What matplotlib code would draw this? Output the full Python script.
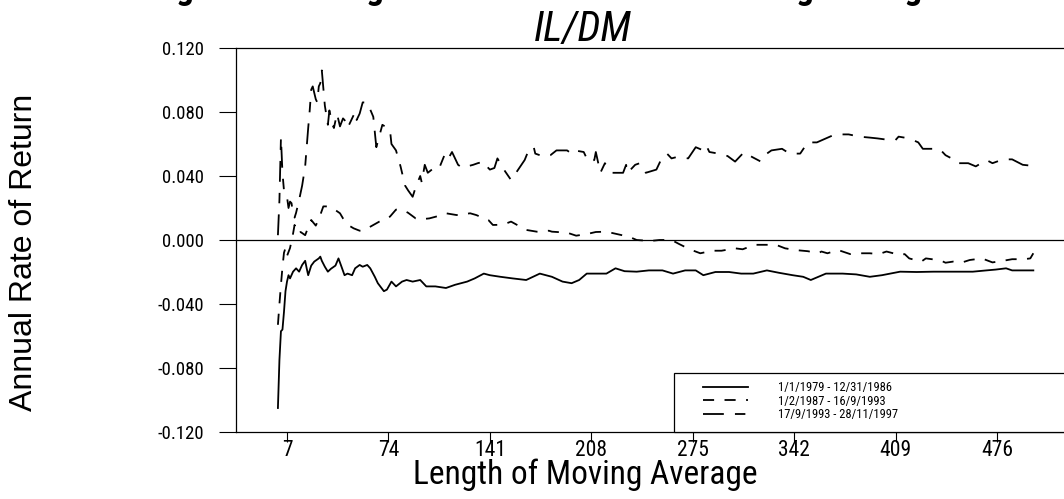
import matplotlib
matplotlib.use("Agg")
import matplotlib.pyplot as plt
from matplotlib import font_manager
from matplotlib.lines import Line2D
from matplotlib.patches import Rectangle

# ---------------- data ----------------
title_text = "Figure 2: Average Annual Returns from Moving Average Rules"
subtitle_text = "IL/DM"
ylabel_text = "Annual Rate of Return"
xlabel_text = "Length of Moving Average"
series_labels = ["1/1/1979 - 12/31/1986", "1/2/1987 - 16/9/1993", "17/9/1993 - 28/11/1997"]
x_ticks = [7, 74, 141, 208, 275, 342, 409, 476]
y_ticks = [-0.120, -0.080, -0.040, 0.000, 0.040, 0.080, 0.120]

p1_x = [1, 2, 3, 4, 5, 6, 7, 8, 9, 11, 13, 15, 17, 19, 20, 21, 23, 25, 28, 29, 30, 32, 34, 36,
        39, 41, 43, 45, 47, 50, 52, 55, 57, 60, 62, 65, 67, 71, 73, 76, 79, 83, 86, 90, 95, 99,
        105, 112, 118, 126, 131, 137, 141, 148, 156, 165, 174, 182, 189, 195, 200, 205, 218, 224,
        230, 238, 246, 255, 262, 270, 277, 282, 290, 299, 307, 315, 324, 332, 341, 348, 353, 358,
        363, 374, 383, 392, 400, 412, 423, 434, 447, 460, 469, 475, 482, 486, 493, 500]
p1_y = [-0.105, -0.075, -0.057, -0.056, -0.045, -0.032, -0.026, -0.022, -0.024, -0.0198, -0.0177,
        -0.0198, -0.0156, -0.013, -0.0177, -0.022, -0.016, -0.0135, -0.0115, -0.0104, -0.013,
        -0.0167, -0.0198, -0.018, -0.016, -0.0115, -0.0167, -0.022, -0.021, -0.022, -0.0177,
        -0.0156, -0.0167, -0.0156, -0.0177, -0.023, -0.027, -0.032, -0.031, -0.026, -0.029,
        -0.026, -0.025, -0.026, -0.025, -0.029, -0.029, -0.030, -0.028, -0.026, -0.024, -0.021,
        -0.022, -0.023, -0.024, -0.025, -0.021, -0.023, -0.026, -0.027, -0.025, -0.021, -0.021,
        -0.0177, -0.0195, -0.0198, -0.019, -0.019, -0.021, -0.019, -0.019, -0.022, -0.020,
        -0.020, -0.021, -0.021, -0.019, -0.0205, -0.022, -0.023, -0.025, -0.023, -0.021, -0.021,
        -0.0215, -0.023, -0.022, -0.0198, -0.020, -0.0198, -0.0198, -0.0198, -0.019, -0.0185,
        -0.0177, -0.019, -0.019, -0.019]

p2_x = [1, 2, 3, 4, 5, 6, 7, 9, 11, 12, 14, 16, 19, 21, 23, 26, 28, 31, 34, 37, 42, 44, 48, 51,
        55, 58, 62, 68, 75, 79, 83, 87, 92, 96, 101, 107, 112, 119, 123, 128, 132, 140, 143, 148,
        152, 155, 159, 165, 172, 180, 182, 192, 198, 205, 211, 218, 225, 233, 238, 247, 253, 261,
        266, 273, 280, 288, 294, 303, 308, 316, 323, 330, 336, 343, 351, 358, 360, 364, 371, 379,
        385, 392, 398, 403, 412, 415, 418, 426, 429, 433, 439, 442, 447, 453, 458, 466, 473, 480,
        486, 494, 498, 500]
p2_y = [-0.053, -0.040, -0.028, -0.017, -0.008, -0.005, -0.010, -0.005, 0.004, 0.0094, 0.004,
        0.005, 0.003, 0.008, 0.0125, 0.009, 0.013, 0.021, 0.021, 0.020, 0.0167, 0.0135, 0.009,
        0.0073, 0.0058, 0.006, 0.0083, 0.0115, 0.0146, 0.019, 0.019, 0.017, 0.0135, 0.013,
        0.0135, 0.015, 0.0167, 0.0156, 0.016, 0.0167, 0.0156, 0.0125, 0.0094, 0.0095, 0.0104,
        0.0115, 0.0094, 0.0063, 0.0052, 0.0058, 0.0052, 0.0046, 0.0027, 0.0037, 0.005, 0.0052,
        0.0037, 0.002, 0.0, -0.0006, 0.0, 0.0, -0.0025, -0.0058, -0.0083, -0.0067, -0.0067,
        -0.0052, -0.0058, -0.003, -0.003, -0.003, -0.0052, -0.0063, -0.007, -0.0083, -0.0072,
        -0.0083, -0.00625, -0.0088, -0.0083, -0.0083, -0.0088, -0.0072, -0.0094, -0.0088,
        -0.0115, -0.0135, -0.0115, -0.012, -0.0129, -0.0142, -0.0135, -0.014, -0.0125, -0.0115,
        -0.014, -0.013, -0.012, -0.012, -0.0115, -0.0083]

p3_x = [1, 2, 3, 4, 5, 6, 7, 8, 9, 10, 11, 12, 13, 15, 17, 19, 21, 22, 23, 24, 26, 27, 28, 29,
        30, 31, 32, 34, 35, 37, 38, 40, 42, 44, 45, 47, 49, 52, 53, 55, 57, 60, 64, 66, 70, 75,
        76, 79, 82, 85, 87, 90, 92, 95, 96, 98, 100, 104, 107, 108, 111, 113, 116, 118, 120, 123,
        126, 130, 133, 137, 139, 141, 144, 146, 151, 155, 159, 164, 167, 170, 171, 177, 181, 185,
        192, 195, 197, 203, 206, 210, 211, 214, 217, 222, 229, 231, 232, 237, 240, 244, 251, 254,
        258, 261, 265, 272, 277, 282, 284, 286, 292, 295, 298, 303, 309, 314, 320, 324, 327, 334,
        339, 346, 351, 357, 363, 369, 378, 385, 392, 397, 405, 409, 411, 418, 424, 427, 430, 438,
        442, 446, 449, 457, 462, 469, 473, 480, 486, 493, 500]
p3_y = [0.003, 0.025, 0.064, 0.042, 0.031, 0.030, 0.027, 0.020, 0.024, 0.023, 0.016, 0.014,
        0.017, 0.025, 0.034, 0.046, 0.070, 0.081, 0.094, 0.096, 0.088, 0.086, 0.096, 0.098, 0.106,
        0.095, 0.084, 0.072, 0.081, 0.072, 0.070, 0.079, 0.071, 0.076, 0.075, 0.070, 0.074, 0.080,
        0.075, 0.079, 0.086, 0.086, 0.077, 0.058, 0.072, 0.069, 0.060, 0.056, 0.046, 0.034, 0.031,
        0.027, 0.033, 0.040, 0.036, 0.047, 0.042, 0.045, 0.047, 0.046, 0.053, 0.050, 0.055, 0.051,
        0.047, 0.045, 0.046, 0.047, 0.048, 0.049, 0.046, 0.044, 0.045, 0.051, 0.043, 0.0375,
        0.043, 0.050, 0.057, 0.058, 0.054, 0.052, 0.053, 0.056, 0.056, 0.054, 0.056, 0.055,
        0.049, 0.050, 0.055, 0.042, 0.048, 0.042, 0.042, 0.047, 0.042, 0.047, 0.048, 0.042,
        0.044, 0.050, 0.054, 0.051, 0.052, 0.051, 0.058, 0.056, 0.059, 0.055, 0.054, 0.053,
        0.0525, 0.049, 0.055, 0.052, 0.049, 0.054, 0.056, 0.057, 0.054, 0.054, 0.061, 0.061,
        0.0635, 0.066, 0.066, 0.0646, 0.064, 0.0635, 0.0625, 0.0625, 0.0646, 0.0635, 0.061,
        0.057, 0.057, 0.057, 0.053, 0.051, 0.048, 0.048, 0.046, 0.050, 0.048, 0.0504, 0.0504,
        0.047, 0.0463]

# ---------------- fonts ----------------
_names = {f.name for f in font_manager.fontManager.ttflist}
NARROW = "Liberation Sans"
for cand in ["Liberation Sans Narrow", "Arial Narrow", "Roboto Condensed", "Archivo Narrow",
             "PT Sans Narrow", "IBM Plex Sans Condensed", "Fira Sans Condensed"]:
    if cand in _names:
        NARROW = cand
        break
REG = "Liberation Sans"
plt.rcParams["lines.scale_dashes"] = False

W, H = 1064, 499
fig = plt.figure(figsize=(W / 100, H / 100), dpi=100)
fig.patch.set_facecolor("white")

# axes placed in pixel coordinates (extends beyond the right edge like the reference)
L, R, T, B = 236, 1100, 48, 432
ax = fig.add_axes([L / W, 1 - B / H, (R - L) / W, (B - T) / H])
px_per_unit = (997 - 287) / (476 - 7)
x0_px = 287 - 7 * px_per_unit
ax.set_xlim((L - x0_px) / px_per_unit, (R - x0_px) / px_per_unit)
ax.set_ylim(-0.120, 0.120)

lw = 1.3
ax.plot(p1_x, p1_y, color="black", lw=lw, solid_joinstyle="round")
l2, = ax.plot(p2_x, p2_y, color="black", lw=lw)
l2.set_dashes((8, 7.5))
l3, = ax.plot(p3_x, p3_y, color="black", lw=lw)
l3.set_dashes((15, 8, 7.5, 8))

ax.axhline(0, color="black", lw=0.9)

for s in ["left", "top", "bottom"]:
    ax.spines[s].set_linewidth(0.9)
ax.spines["right"].set_visible(False)

ax.set_yticks(y_ticks)
ax.set_yticklabels([f"{v:.3f}" for v in y_ticks], fontfamily=NARROW, fontsize=13.5)
ax.set_xticks(x_ticks)
ax.set_xticklabels([str(v) for v in x_ticks], fontfamily=NARROW, fontsize=15.5)
ax.tick_params(axis="y", direction="out", length=12.2, width=0.8, pad=10.5)
ax.tick_params(axis="x", direction="out", length=7, width=0.8, pad=-1.5)

# legend box
lx0 = (674 - L) / (R - L)
ly1 = (B - 373) / (B - T)
ax.add_patch(Rectangle((lx0, 0), 1.2 - lx0, ly1, transform=ax.transAxes, facecolor="white",
                       edgecolor="black", lw=0.9, zorder=5, clip_on=False))
h1 = Line2D([], [], color="black", lw=lw)
h2 = Line2D([], [], color="black", lw=lw, dashes=(8, 7.5))
h3 = Line2D([], [], color="black", lw=lw, dashes=(15, 8, 7.5, 8))
leg = ax.legend([h1, h2, h3], series_labels, loc="upper left",
                bbox_to_anchor=((703 - L) / (R - L), (B - 381) / (B - T)),
                frameon=False, prop={"family": NARROW, "size": 9},
                handlelength=3.6, handletextpad=2.4, labelspacing=0.05,
                borderpad=0, borderaxespad=0)
leg.set_zorder(6)

# texts
fig.text(150 / W, 1 + 1.0 / H, title_text, fontfamily=NARROW, fontweight="bold", fontsize=25.5,
         ha="left", va="baseline")
fig.text(583 / W, 1 - 41 / H, subtitle_text, fontfamily=NARROW, fontstyle="italic", fontsize=30,
         ha="center", va="baseline")
fig.text(24 / W, 1 - 252 / H, ylabel_text, fontfamily=REG, fontsize=23, rotation=90,
         ha="center", va="center")
fig.text(585 / W, 1 - 484 / H, xlabel_text, fontfamily=NARROW, fontsize=24,
         ha="center", va="baseline")

fig.savefig("out.png", dpi=100)
